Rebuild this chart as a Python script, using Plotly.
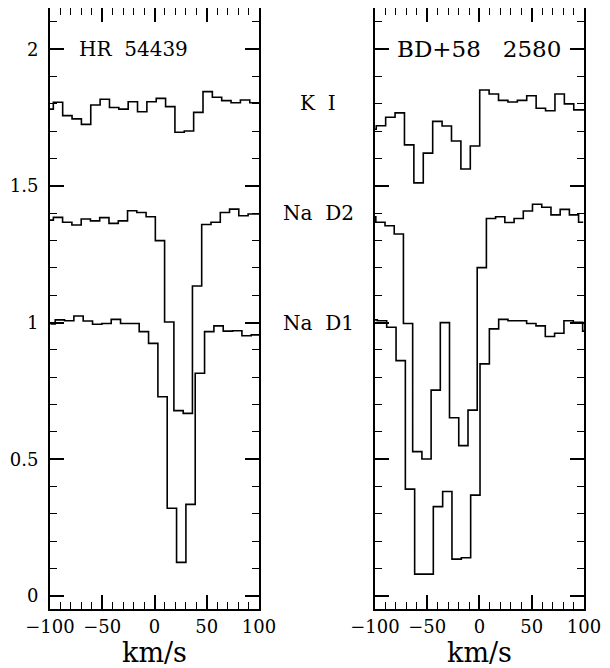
import plotly.graph_objects as go

# ---------------- data ----------------
# HR 54439 (left panel): bin-centre velocities (km/s) and normalised flux (offset)
hr_ki_v = [-101.3, -92.35, -83.4, -74.4, -65.5, -56.5, -47.6, -38.6, -29.7, -20.7, -11.8, -2.8,
           6.1, 15.1, 24.0, 33.0, 41.9, 50.9, 59.8, 68.8, 77.7, 86.7, 95.6, 104.6]
hr_ki_f = [1.781, 1.806, 1.757, 1.745, 1.725, 1.796, 1.817, 1.787, 1.781, 1.808, 1.771, 1.808,
           1.820, 1.790, 1.696, 1.701, 1.769, 1.845, 1.824, 1.812, 1.804, 1.814, 1.804, 1.804]

hr_d2_v = [-101.2, -92.4, -83.5, -74.6, -65.7, -56.9, -48.0, -39.1, -30.2, -21.4, -12.5, -3.6,
           5.2, 14.1, 23.0, 31.9, 40.7, 49.6, 58.5, 67.4, 76.2, 85.1, 94.0, 102.9]
hr_d2_f = [1.375, 1.385, 1.367, 1.357, 1.379, 1.372, 1.384, 1.363, 1.372, 1.409, 1.403, 1.387,
           1.300, 1.002, 0.678, 0.668, 1.134, 1.359, 1.367, 1.403, 1.415, 1.391, 1.397, 1.397]

hr_d1_v = [-99.5, -90.5, -81.6, -72.7, -63.8, -54.8, -45.9, -37.0, -28.0, -19.1, -10.2, -1.2,
           7.7, 16.6, 25.6, 34.5, 43.4, 52.4, 61.3, 70.2, 79.2, 88.1, 97.0, 106.0]
hr_d1_f = [0.995, 1.010, 1.007, 1.024, 1.006, 0.994, 0.997, 1.012, 0.997, 0.997, 0.967, 0.924,
           0.729, 0.321, 0.123, 0.335, 0.815, 0.967, 0.988, 0.969, 0.970, 0.952, 0.955, 0.955]

# BD+58 2580 (right panel)
bd_ki_v = [-103.3, -94.3, -85.3, -76.3, -67.3, -58.3, -49.3, -40.3, -31.3, -22.3, -13.3, -4.3,
           4.7, 13.7, 22.7, 31.7, 40.7, 49.7, 58.7, 67.7, 76.7, 85.7, 94.7, 103.7]
bd_ki_f = [1.707, 1.720, 1.751, 1.767, 1.650, 1.511, 1.620, 1.736, 1.719, 1.664, 1.562, 1.646,
           1.851, 1.836, 1.813, 1.807, 1.813, 1.830, 1.784, 1.775, 1.836, 1.800, 1.778, 1.778]

bd_d2_v = [-103.6, -94.8, -86.0, -77.2, -68.4, -59.5, -50.7, -41.9, -33.1, -24.3, -15.4, -6.6,
           2.2, 11.0, 19.8, 28.7, 37.5, 46.3, 55.1, 64.0, 72.8, 81.6, 90.4, 99.2]
bd_d2_f = [1.387, 1.367, 1.354, 1.324, 0.997, 0.528, 0.501, 0.753, 1.000, 0.652, 0.550, 0.680,
           1.201, 1.381, 1.387, 1.366, 1.381, 1.408, 1.433, 1.422, 1.394, 1.414, 1.394, 1.367]

bd_d1_v = [-102.2, -93.3, -84.3, -75.4, -66.5, -57.6, -48.7, -39.7, -30.8, -21.9, -12.9, -4.0,
           5.0, 13.9, 22.8, 31.7, 40.6, 49.6, 58.5, 67.4, 76.3, 85.3, 94.2, 103.2]
bd_d1_f = [1.010, 1.007, 0.983, 0.861, 0.391, 0.080, 0.080, 0.327, 0.382, 0.135, 0.140, 0.369,
           0.849, 0.977, 1.012, 1.007, 1.007, 0.997, 0.988, 0.949, 0.961, 1.007, 1.001, 0.969]

star_names = ["HR 54439", "BD+58 2580"]
line_names = ["K I", "Na D2", "Na D1"]
line_label_y = [1.803, 1.401, 0.999]

x_ticks = [-100, -50, 0, 50, 100]
y_ticks = [0, 0.5, 1, 1.5, 2]

# ---------------- figure ----------------
FONT = "DejaVu Serif"
fig = go.Figure()

panels = [
    ("x", "y", [(hr_ki_v, hr_ki_f), (hr_d2_v, hr_d2_f), (hr_d1_v, hr_d1_f)]),
    ("x2", "y2", [(bd_ki_v, bd_ki_f), (bd_d2_v, bd_d2_f), (bd_d1_v, bd_d1_f)]),
]
for xa, ya, series in panels:
    for v, f in series:
        fig.add_trace(go.Scatter(x=v, y=f, mode="lines", xaxis=xa, yaxis=ya,
                                 line=dict(color="black", width=1.6, shape="hvh"),
                                 showlegend=False, hoverinfo="skip"))

axis_common = dict(showline=True, linecolor="black", linewidth=2, mirror="ticks",
                   ticks="inside", ticklen=14, tickwidth=1.5, tickcolor="black",
                   showgrid=False, zeroline=False, automargin=False,
                   tickfont=dict(family=FONT, size=18, color="black"))

xcfg = dict(axis_common, range=[-100, 100], tickmode="array", tickvals=x_ticks, tickangle=0,
            minor=dict(dtick=10, tick0=0, ticks="inside", ticklen=7, tickwidth=1.2,
                       tickcolor="black", showgrid=False),
            title=dict(text="km/s", font=dict(family=FONT, size=27, color="black"), standoff=3))
ycfg = dict(axis_common, range=[-0.0475, 2.1507], tickmode="array", tickvals=y_ticks,
            minor=dict(dtick=0.1, tick0=0, ticks="inside", ticklen=7, tickwidth=1.2,
                       tickcolor="black", showgrid=False),
            ticklabelstandoff=6)

# the page adds an 8 px body margin, so the figure is 8 px smaller and shifted
fig.update_layout(
    width=602, height=660,
    margin=dict(l=42, r=26, t=0, b=59),
    paper_bgcolor="white", plot_bgcolor="white",
    xaxis=dict(xcfg, domain=[0, 0.3914]),
    xaxis2=dict(xcfg, domain=[0.6086, 1], anchor="y2"),
    yaxis=dict(ycfg, anchor="x"),
    yaxis2=dict(ycfg, anchor="x2", showticklabels=False),
)

# star names at the top of each panel
fig.add_annotation(x=-20, y=2.0, xref="x", yref="y", text=star_names[0].replace(" ", "\u00a0\u00a0"),
                   showarrow=False, font=dict(family=FONT, size=20, color="black"))
fig.add_annotation(x=0, y=2.0, xref="x2", yref="y2", text=star_names[1].replace(" ", "\u00a0\u00a0\u00a0"),
                   showarrow=False, font=dict(family=FONT, size=23, color="black"))

# line identifications between the panels
for name, yv in zip(line_names, line_label_y):
    fig.add_annotation(x=0.502, y=yv, xref="paper", yref="y", text=name.replace(" ", "\u00a0\u00a0"),
                       showarrow=False, font=dict(family=FONT, size=20, color="black"))

fig.write_html("out.html")
